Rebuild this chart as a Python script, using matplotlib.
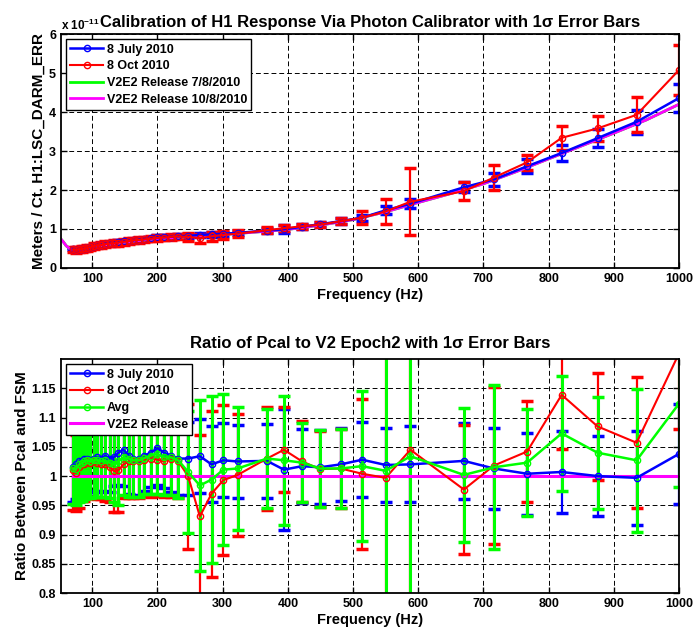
import matplotlib
matplotlib.use('Agg')
import matplotlib.pyplot as plt

plt.rcParams['font.family'] = ['Liberation Sans', 'DejaVu Sans']
plt.rcParams['font.weight'] = 'bold'
plt.rcParams['mathtext.default'] = 'regular'

# measurement frequencies (Hz)
freq = [70, 75, 80, 84, 88, 92, 97, 102, 108, 114, 120, 127, 134, 140, 148, 156,
        163, 172, 180, 190, 200, 210, 221, 232,
        247, 265, 283, 301, 323, 368, 394, 422, 449, 481,
        514, 550, 588, 670, 716, 767, 820, 875, 935, 1000]

# response, meters / count (x 1e-11)
jul_resp = [0.48, 0.47, 0.48, 0.49, 0.505, 0.515, 0.535, 0.565, 0.59, 0.60,
            0.62, 0.64, 0.65, 0.67, 0.69, 0.70, 0.71, 0.73, 0.74, 0.76,
            0.79, 0.79, 0.80, 0.81,
            0.82, 0.85, 0.86, 0.88, 0.90, 0.96, 0.99, 1.06, 1.12, 1.20,
            1.29, 1.48, 1.65, 2.07, 2.27, 2.61, 2.95, 3.33, 3.75, 4.36]
jul_err = [0.03, 0.03, 0.03, 0.03, 0.03, 0.03, 0.03, 0.03, 0.035, 0.035,
           0.035, 0.035, 0.035, 0.035, 0.04, 0.04, 0.04, 0.04, 0.04, 0.045,
           0.045, 0.045, 0.045, 0.05,
           0.055, 0.055, 0.055, 0.055, 0.06, 0.06, 0.10, 0.07, 0.07, 0.07,
           0.08, 0.10, 0.11, 0.13, 0.16, 0.18, 0.21, 0.23, 0.30, 0.37]
oct_resp = [0.475, 0.46, 0.475, 0.49, 0.50, 0.51, 0.53, 0.56, 0.58, 0.59,
            0.61, 0.63, 0.635, 0.65, 0.67, 0.69, 0.71, 0.72, 0.735, 0.75,
            0.77, 0.78, 0.80, 0.805,
            0.80, 0.76, 0.81, 0.85, 0.88, 0.97, 1.02, 1.07, 1.11, 1.20,
            1.29, 1.45, 1.70, 1.97, 2.32, 2.71, 3.34, 3.58, 3.93, 5.08]
oct_err = [0.07, 0.07, 0.07, 0.07, 0.07, 0.07, 0.07, 0.07, 0.07, 0.07,
           0.07, 0.07, 0.075, 0.075, 0.075, 0.07, 0.07, 0.07, 0.07, 0.07,
           0.07, 0.07, 0.07, 0.07,
           0.10, 0.12, 0.12, 0.11, 0.09, 0.08, 0.07, 0.07, 0.07, 0.08,
           0.165, 0.31, 0.86, 0.23, 0.31, 0.20, 0.31, 0.33, 0.45, 0.65]

# V2E2 model curves
model_f = [52, 56, 60, 65, 70, 75, 80, 90, 100, 125, 150, 175, 200, 250, 300, 350,
           400, 450, 500, 550, 600, 650, 700, 750, 800, 850, 900, 950, 1000]
model_jul = [0.74, 0.66, 0.57, 0.50, 0.47, 0.46, 0.47, 0.50, 0.54, 0.61, 0.66, 0.71,
             0.75, 0.81, 0.86, 0.92, 0.99, 1.10, 1.24, 1.44, 1.68, 1.91, 2.16, 2.47,
             2.80, 3.13, 3.46, 3.80, 4.20]
model_oct = [0.74, 0.66, 0.57, 0.50, 0.47, 0.46, 0.47, 0.50, 0.54, 0.61, 0.66, 0.71,
             0.75, 0.81, 0.86, 0.92, 0.99, 1.10, 1.24, 1.44, 1.68, 1.91, 2.16, 2.47,
             2.80, 3.13, 3.46, 3.80, 4.20]

# ratio Pcal / model
jul_ratio = [1.015, 1.02, 1.025, 1.025, 1.03, 1.03, 1.028, 1.03, 1.032, 1.03,
             1.035, 1.03, 1.033, 1.04, 1.045, 1.035, 1.03, 1.03, 1.035, 1.04,
             1.048, 1.04, 1.035, 1.03,
             1.03, 1.034, 1.02, 1.027, 1.025, 1.026, 1.011, 1.017, 1.015, 1.02,
             1.028, 1.019, 1.02, 1.026, 1.013, 1.004, 1.007, 1.0, 0.997, 1.038]
jul_ratio_err = [0.06, 0.06, 0.06, 0.058, 0.058, 0.058, 0.056, 0.056, 0.06, 0.058,
                 0.06, 0.058, 0.05, 0.055, 0.062, 0.065, 0.065, 0.062, 0.06, 0.058,
                 0.063, 0.06, 0.062, 0.062,
                 0.063, 0.063, 0.065, 0.063, 0.063, 0.063, 0.103, 0.063, 0.063, 0.063,
                 0.064, 0.064, 0.065, 0.065, 0.069, 0.07, 0.07, 0.068, 0.08, 0.086]
oct_ratio = [1.01, 1.005, 1.015, 1.02, 1.02, 1.025, 1.022, 1.025, 1.022, 1.02,
             1.02, 1.015, 1.008, 1.01, 1.02, 1.025, 1.025, 1.025, 1.028, 1.03,
             1.028, 1.025, 1.03, 1.025,
             1.0, 0.931, 0.97, 0.993, 1.002, 1.03, 1.045, 1.025, 1.012, 1.013,
             1.004, 0.997, 1.045, 0.977, 1.018, 1.042, 1.139, 1.085, 1.057, 1.21]
oct_ratio_err = [0.068, 0.065, 0.07, 0.062, 0.062, 0.062, 0.06, 0.062, 0.062, 0.06,
                 0.062, 0.06, 0.07, 0.072, 0.058, 0.062, 0.062, 0.062, 0.062, 0.065,
                 0.062, 0.06, 0.065, 0.062,
                 0.124, 0.14, 0.142, 0.128, 0.105, 0.088, 0.073, 0.07, 0.065, 0.068,
                 0.128, 0.21, 0.5, 0.111, 0.135, 0.086, 0.093, 0.092, 0.112, 0.13]
avg_ratio = [1.013, 1.012, 1.02, 1.022, 1.025, 1.027, 1.025, 1.027, 1.027, 1.025,
             1.027, 1.022, 1.02, 1.025, 1.032, 1.03, 1.027, 1.027, 1.031, 1.035,
             1.038, 1.032, 1.032, 1.027,
             1.007, 0.984, 0.994, 1.011, 1.013, 1.03, 1.027, 1.023, 1.013, 1.013,
             1.017, 1.009, 1.034, 1.002, 1.015, 1.023, 1.073, 1.04, 1.027, 1.124]
avg_err = [0.06, 0.062, 0.065, 0.065, 0.065, 0.065, 0.062, 0.062, 0.062, 0.06,
           0.062, 0.06, 0.065, 0.075, 0.065, 0.065, 0.062, 0.062, 0.062, 0.065,
           0.068, 0.065, 0.065, 0.065,
           0.105, 0.146, 0.143, 0.129, 0.105, 0.085, 0.11, 0.068, 0.066, 0.067,
           0.128, 0.45, 0.45, 0.114, 0.14, 0.092, 0.098, 0.096, 0.122, 0.143]
rel_f = [70, 1000]
rel_ratio = [1.0, 1.0]

xticks = [100, 200, 300, 400, 500, 600, 700, 800, 900, 1000]

fig = plt.figure(figsize=(6.96, 6.32), dpi=100)
ax1 = fig.add_axes([0.0876, 0.576, 0.888, 0.370])
ax2 = fig.add_axes([0.0876, 0.0617, 0.888, 0.370])

ebkw = dict(marker='o', mfc='none', ms=4.5, capsize=4, capthick=2.5, elinewidth=1.6)
legkw = dict(loc='upper left', fontsize=9, frameon=True, fancybox=False, framealpha=1,
             edgecolor='k', handlelength=2.6, borderpad=0.35, labelspacing=0.38,
             handletextpad=0.3, borderaxespad=0.4)

# top panel
e1 = ax1.errorbar(freq, jul_resp, yerr=jul_err, color='b', lw=1.8, **ebkw)
e2 = ax1.errorbar(freq, oct_resp, yerr=oct_err, color='r', lw=1.5, **ebkw)
l3, = ax1.plot(model_f, model_jul, color='#00ff00', lw=2)
l4, = ax1.plot(model_f, model_oct, color='#ff00ff', lw=2)

ax1.legend([e1[0], e2[0], l3, l4],
           ['8 July 2010', '8 Oct 2010', 'V2E2 Release 7/8/2010', 'V2E2 Release 10/8/2010'],
           **legkw)
ax1.set_xlim(52, 1000)
ax1.set_ylim(0, 6)
ax1.set_yticks([0, 1, 2, 3, 4, 5, 6])
ax1.set_title('Calibration of H1 Response Via Photon Calibrator with 1\u03c3 Error Bars',
              fontsize=12, fontweight='bold', pad=5)
ax1.text(0.0, 1.005, r'x 10$^{-11}$', transform=ax1.transAxes, ha='left', va='bottom',
         fontsize=8.5)
ax1.set_ylabel('Meters / Ct. H1:LSC_DARM_ERR', fontsize=11, fontweight='bold', labelpad=2)

# bottom panel
b1 = ax2.errorbar(freq, jul_ratio, yerr=jul_ratio_err, color='b', lw=1.8, **ebkw)
b2 = ax2.errorbar(freq, oct_ratio, yerr=oct_ratio_err, color='r', lw=1.5, **ebkw)
b3 = ax2.errorbar(freq, avg_ratio, yerr=avg_err, color='#00ff00', lw=1.8,
                  marker='o', mfc='none', ms=4.5, capsize=4, capthick=2.5, elinewidth=2.2)
b4, = ax2.plot(rel_f, rel_ratio, color='#ff00ff', lw=2.2)

ax2.legend([b1[0], b2[0], b3[0], b4],
           ['8 July 2010', '8 Oct 2010', 'Avg', 'V2E2 Release'], **legkw)
ax2.set_xlim(52, 1000)
ax2.set_ylim(0.8, 1.2)
ax2.set_yticks([0.8, 0.85, 0.9, 0.95, 1.0, 1.05, 1.1, 1.15])
ax2.set_yticklabels(['0.8', '0.85', '0.9', '0.95', '1', '1.05', '1.1', '1.15'])
ax2.set_title('Ratio of Pcal to V2 Epoch2 with 1\u03c3 Error Bars',
              fontsize=12, fontweight='bold', pad=8)
ax2.set_ylabel('Ratio Between Pcal and FSM', fontsize=11, fontweight='bold', labelpad=2)

for ax in (ax1, ax2):
    ax.set_xticks(xticks)
    ax.set_xlabel('Frequency (Hz)', fontsize=10.5, fontweight='bold', labelpad=2)
    ax.grid(True, color='k', linestyle=(0, (5, 3)), linewidth=0.7)
    ax.set_axisbelow(True)
    ax.tick_params(direction='in', length=4, width=1, labelsize=9, top=True, right=True)
    for s in ax.spines.values():
        s.set_linewidth(1.3)
    for lab in ax.get_xticklabels() + ax.get_yticklabels():
        lab.set_fontweight('bold')

fig.savefig('out.png', dpi=100)
